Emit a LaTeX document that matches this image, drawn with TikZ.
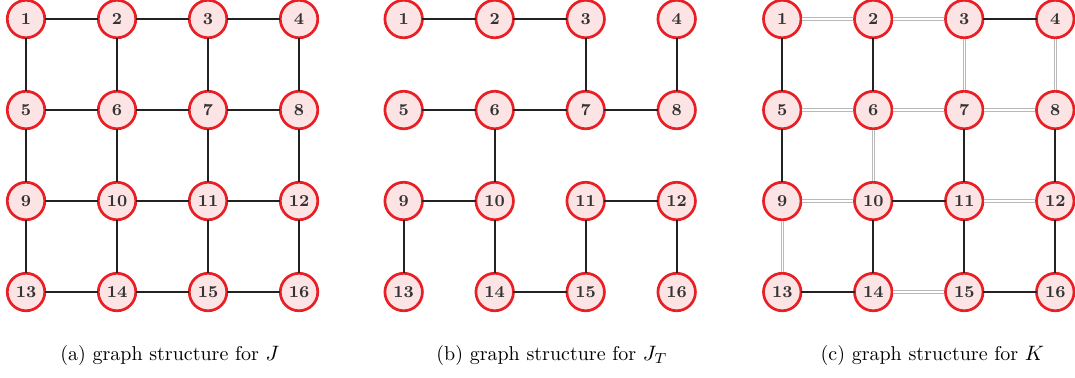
\documentclass[tikz,border=0pt]{standalone}
\usepackage{tikz}
\usepackage{tkz-graph}

\definecolor{ringred}{RGB}{232,32,38}
\definecolor{ringfill}{RGB}{252,228,228}
\definecolor{edgedark}{RGB}{34,34,34}
\definecolor{edgegrey}{RGB}{185,185,185}

\begin{document}
\begin{tikzpicture}[x=1.535cm,y=1.535cm]
        \GraphInit[vstyle=Normal]
        \SetUpEdge[color=edgedark,lw=1.1pt]
        \tikzset{VertexStyle/.style={circle,draw=ringred,fill=ringfill,line width=1.3pt,
            minimum size=18pt,inner sep=0pt,text=black!80,font=\fontsize{8}{9}\selectfont\bfseries}}
        \tikzset{greyedge/.style={double=white,double distance=0.6pt,shorten <=0.7pt,shorten >=0.7pt}}
        \tikzset{caption/.style={font=\rmfamily\fontsize{9.6}{11}\selectfont}}
        \useasboundingbox (-0.286,0.209) rectangle (11.527,-3.934);

        % (a) graph structure for J
        \Vertex[x=0, y=0, L=1]{a1}
        \Vertex[x=1, y=0, L=2]{a2}
        \Vertex[x=2, y=0, L=3]{a3}
        \Vertex[x=3, y=0, L=4]{a4}
        \Vertex[x=0, y=-1, L=5]{a5}
        \Vertex[x=1, y=-1, L=6]{a6}
        \Vertex[x=2, y=-1, L=7]{a7}
        \Vertex[x=3, y=-1, L=8]{a8}
        \Vertex[x=0, y=-2, L=9]{a9}
        \Vertex[x=1, y=-2, L=10]{a10}
        \Vertex[x=2, y=-2, L=11]{a11}
        \Vertex[x=3, y=-2, L=12]{a12}
        \Vertex[x=0, y=-3, L=13]{a13}
        \Vertex[x=1, y=-3, L=14]{a14}
        \Vertex[x=2, y=-3, L=15]{a15}
        \Vertex[x=3, y=-3, L=16]{a16}
        \Edge(a1)(a2)
        \Edge(a2)(a3)
        \Edge(a3)(a4)
        \Edge(a5)(a6)
        \Edge(a6)(a7)
        \Edge(a7)(a8)
        \Edge(a9)(a10)
        \Edge(a10)(a11)
        \Edge(a11)(a12)
        \Edge(a13)(a14)
        \Edge(a14)(a15)
        \Edge(a15)(a16)
        \Edge(a1)(a5)
        \Edge(a2)(a6)
        \Edge(a3)(a7)
        \Edge(a4)(a8)
        \Edge(a5)(a9)
        \Edge(a6)(a10)
        \Edge(a7)(a11)
        \Edge(a8)(a12)
        \Edge(a9)(a13)
        \Edge(a10)(a14)
        \Edge(a11)(a15)
        \Edge(a12)(a16)
        \node[caption] (capa) at (1.58,-3.7) {(a) graph structure for $J$};

        % (b) graph structure for J_T
        \Vertex[x=4.15, y=0, L=1]{b1}
        \Vertex[x=5.15, y=0, L=2]{b2}
        \Vertex[x=6.15, y=0, L=3]{b3}
        \Vertex[x=7.15, y=0, L=4]{b4}
        \Vertex[x=4.15, y=-1, L=5]{b5}
        \Vertex[x=5.15, y=-1, L=6]{b6}
        \Vertex[x=6.15, y=-1, L=7]{b7}
        \Vertex[x=7.15, y=-1, L=8]{b8}
        \Vertex[x=4.15, y=-2, L=9]{b9}
        \Vertex[x=5.15, y=-2, L=10]{b10}
        \Vertex[x=6.15, y=-2, L=11]{b11}
        \Vertex[x=7.15, y=-2, L=12]{b12}
        \Vertex[x=4.15, y=-3, L=13]{b13}
        \Vertex[x=5.15, y=-3, L=14]{b14}
        \Vertex[x=6.15, y=-3, L=15]{b15}
        \Vertex[x=7.15, y=-3, L=16]{b16}
        \Edge(b1)(b2)
        \Edge(b2)(b3)
        \Edge(b3)(b7)
        \Edge(b4)(b8)
        \Edge(b5)(b6)
        \Edge(b6)(b7)
        \Edge(b7)(b8)
        \Edge(b6)(b10)
        \Edge(b9)(b10)
        \Edge(b9)(b13)
        \Edge(b10)(b14)
        \Edge(b14)(b15)
        \Edge(b11)(b12)
        \Edge(b11)(b15)
        \Edge(b12)(b16)
        \node[caption] (capb) at (5.78,-3.7) {(b) graph structure for $J_T$};

        % (c) graph structure for K
        \Vertex[x=8.31, y=0, L=1]{c1}
        \Vertex[x=9.31, y=0, L=2]{c2}
        \Vertex[x=10.31, y=0, L=3]{c3}
        \Vertex[x=11.31, y=0, L=4]{c4}
        \Vertex[x=8.31, y=-1, L=5]{c5}
        \Vertex[x=9.31, y=-1, L=6]{c6}
        \Vertex[x=10.31, y=-1, L=7]{c7}
        \Vertex[x=11.31, y=-1, L=8]{c8}
        \Vertex[x=8.31, y=-2, L=9]{c9}
        \Vertex[x=9.31, y=-2, L=10]{c10}
        \Vertex[x=10.31, y=-2, L=11]{c11}
        \Vertex[x=11.31, y=-2, L=12]{c12}
        \Vertex[x=8.31, y=-3, L=13]{c13}
        \Vertex[x=9.31, y=-3, L=14]{c14}
        \Vertex[x=10.31, y=-3, L=15]{c15}
        \Vertex[x=11.31, y=-3, L=16]{c16}
        \Edge[color=edgegrey, lw=0.45pt, style={greyedge}](c1)(c2)
        \Edge[color=edgegrey, lw=0.45pt, style={greyedge}](c2)(c3)
        \Edge[color=edgegrey, lw=0.45pt, style={greyedge}](c3)(c7)
        \Edge[color=edgegrey, lw=0.45pt, style={greyedge}](c4)(c8)
        \Edge[color=edgegrey, lw=0.45pt, style={greyedge}](c5)(c6)
        \Edge[color=edgegrey, lw=0.45pt, style={greyedge}](c6)(c7)
        \Edge[color=edgegrey, lw=0.45pt, style={greyedge}](c7)(c8)
        \Edge[color=edgegrey, lw=0.45pt, style={greyedge}](c6)(c10)
        \Edge[color=edgegrey, lw=0.45pt, style={greyedge}](c9)(c10)
        \Edge[color=edgegrey, lw=0.45pt, style={greyedge}](c11)(c12)
        \Edge[color=edgegrey, lw=0.45pt, style={greyedge}](c9)(c13)
        \Edge[color=edgegrey, lw=0.45pt, style={greyedge}](c14)(c15)
        \Edge(c3)(c4)
        \Edge(c1)(c5)
        \Edge(c2)(c6)
        \Edge(c5)(c9)
        \Edge(c7)(c11)
        \Edge(c8)(c12)
        \Edge(c10)(c11)
        \Edge(c10)(c14)
        \Edge(c11)(c15)
        \Edge(c12)(c16)
        \Edge(c13)(c14)
        \Edge(c15)(c16)
        \node[caption] (capc) at (9.96,-3.7) {(c) graph structure for $K$};

    \end{tikzpicture}
\end{document}
